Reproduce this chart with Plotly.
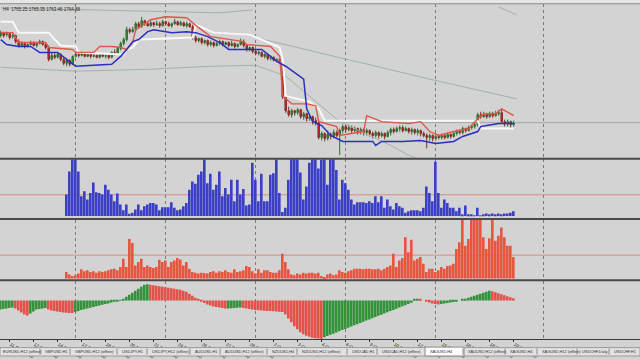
import plotly.graph_objects as go

# ---------------- price data (H4 bars) ----------------
OPEN = [1854,1857,1855,1856,1853,1854,1848,1844,1846,1843,
        1845,1847,1844,1846,1848,1845,1842,1830,1834,1832,
        1835,1830,1826,1829,1825,1833,1835,1834,1836,1833,
        1835,1833,1834,1832,1835,1833,1834,1832,1837,1836,
        1841,1846,1850,1860,1858,1860,1866,1863,1869,1866,
        1864,1867,1865,1866,1864,1868,1866,1864,1866,1868,
        1865,1867,1864,1866,1863,1852,1849,1851,1847,1849,
        1845,1847,1844,1846,1848,1845,1847,1844,1846,1843,
        1845,1848,1844,1840,1842,1838,1836,1837,1833,1835,
        1831,1832,1829,1830,1827,1792,1778,1774,1778,1776,
        1779,1772,1775,1770,1772,1768,1766,1751,1755,1750,
        1754,1752,1756,1753,1758,1762,1759,1761,1758,1760,
        1757,1759,1756,1758,1755,1753,1756,1753,1755,1752,
        1756,1759,1757,1760,1761,1758,1760,1757,1759,1756,
        1758,1755,1753,1751,1753,1750,1752,1751,1753,1751,
        1754,1752,1755,1757,1756,1760,1758,1761,1762,1764,
        1774,1772,1774,1772,1775,1773,1775,1776,1767,1765,
        1767,1764]
HIGH = [1859,1858,1858,1857,1856,1855,1850,1848,1847,1846,
        1849,1848,1847,1850,1849,1846,1844,1837,1836,1837,
        1836,1832,1831,1830,1834,1837,1837,1838,1837,1836,
        1837,1836,1835,1836,1836,1835,1835,1838,1840,1843,
        1848,1852,1863,1862,1863,1868,1868,1873,1870,1868,
        1869,1868,1869,1868,1870,1869,1868,1867,1871,1869,
        1869,1868,1868,1867,1865,1854,1852,1852,1850,1850,
        1849,1848,1848,1850,1849,1848,1848,1849,1847,1846,
        1851,1850,1845,1843,1843,1840,1839,1838,1836,1836,
        1834,1833,1831,1831,1829,1794,1782,1780,1779,1781,
        1780,1777,1776,1774,1773,1771,1768,1757,1756,1758,
        1756,1759,1758,1760,1764,1764,1764,1763,1762,1761,
        1761,1760,1760,1759,1757,1758,1757,1757,1756,1758,
        1761,1761,1762,1763,1763,1762,1761,1761,1760,1760,
        1759,1757,1755,1755,1754,1755,1754,1755,1754,1756,
        1755,1757,1759,1759,1762,1761,1763,1764,1766,1776,
        1777,1777,1776,1777,1777,1778,1779,1780,1769,1769,
        1768,1768]
LOW = [1852,1852,1853,1850,1851,1846,1842,1843,1841,1842,
       1844,1843,1842,1845,1844,1840,1828,1829,1830,1831,
       1828,1824,1823,1823,1824,1832,1832,1833,1832,1832,
       1831,1832,1831,1831,1832,1831,1830,1831,1834,1835,
       1839,1844,1848,1856,1857,1858,1861,1862,1864,1863,
       1863,1863,1864,1862,1863,1864,1863,1862,1865,1864,
       1864,1863,1862,1862,1850,1847,1847,1845,1845,1843,
       1843,1842,1843,1844,1843,1844,1842,1843,1841,1842,
       1844,1842,1838,1838,1836,1834,1834,1832,1831,1829,
       1829,1828,1827,1826,1790,1776,1772,1771,1773,1774,
       1770,1769,1767,1768,1764,1763,1749,1748,1747,1748,
       1749,1750,1751,1733,1755,1756,1757,1755,1756,1754,
       1754,1753,1753,1752,1750,1751,1750,1751,1749,1751,
       1753,1755,1756,1757,1756,1757,1755,1754,1754,1753,
       1752,1751,1740,1748,1747,1748,1749,1749,1749,1750,
       1750,1751,1753,1754,1754,1756,1757,1759,1760,1762,
       1770,1771,1770,1771,1771,1772,1773,1766,1762,1762,
       1760,1762]
CLOSE = [1857,1854,1856,1852,1854,1848,1844,1846,1843,1845,
         1847,1844,1846,1848,1845,1842,1830,1834,1832,1835,
         1830,1826,1829,1825,1833,1835,1834,1836,1833,1835,
         1833,1834,1832,1835,1833,1834,1832,1837,1836,1841,
         1846,1850,1860,1858,1860,1866,1863,1869,1866,1864,
         1867,1865,1866,1864,1868,1866,1864,1866,1868,1865,
         1867,1864,1866,1863,1852,1849,1851,1847,1849,1845,
         1847,1844,1846,1848,1845,1847,1844,1846,1843,1845,
         1848,1844,1840,1842,1838,1836,1837,1833,1835,1831,
         1832,1829,1830,1827,1792,1778,1774,1778,1776,1779,
         1772,1775,1770,1772,1768,1766,1751,1755,1750,1754,
         1752,1756,1753,1758,1762,1759,1761,1758,1760,1757,
         1759,1756,1758,1755,1753,1756,1753,1755,1752,1756,
         1759,1757,1760,1761,1758,1760,1757,1759,1756,1758,
         1755,1753,1751,1753,1750,1752,1751,1753,1751,1754,
         1752,1755,1757,1756,1760,1758,1761,1762,1764,1774,
         1772,1774,1772,1775,1773,1775,1776,1767,1765,1767,
         1764,1765]

# ---------------- overlay lines on price (bar index, price) ----------------
WHITE_X = [0,4,6,16,18,20,25,26,41,42,44,46,64,65,71,83,87,93,94,95,103,106,108,159,160,171]
WHITE_Y = [1868,1868,1857,1857,1850,1844,1843,1837,1835,1840,1842,1850,1852,1865,1857,1855,1850,1842,1830,1793,1787,1780,1768,1768,1760,1760]
RED_X = [0,4,6,15,16,24,25,31,33,37,40,42,44,45,50,55,62,64,66,70,81,82,90,93,94,97,102,105,106,112,113,121,122,127,136,140,143,146,151,156,159,161,165,167,170,171]
RED_Y = [1857,1857,1847,1847,1842,1840,1837,1837,1843,1843,1842,1840,1847,1860,1870,1873,1872,1867,1862,1853,1848,1845,1843,1833,1793,1785,1785,1783,1767,1762,1753,1757,1773,1767,1765,1767,1757,1753,1757,1760,1770,1775,1775,1780,1775,1773]
BLUE_X = [0,2,6,10,13,19,22,25,37,40,42,44,46,49,51,55,57,62,65,69,73,76,87,92,95,101,102,104,107,110,114,124,125,127,134,140,145,151,154,159,160,162,166,171]
BLUE_Y = [1850,1845,1843,1843,1837,1837,1830,1823,1825,1833,1840,1848,1850,1858,1860,1858,1857,1858,1857,1853,1847,1840,1840,1828,1823,1810,1780,1767,1763,1753,1747,1747,1743,1747,1747,1748,1745,1747,1752,1757,1762,1763,1765,1765]
MA_A_X = [0,40,73,84]
MA_A_Y = [1882,1879,1877,1880]
MA_B_X = [85,143,172]
MA_B_Y = [1852,1810,1790]
MA_C_X = [166,172]
MA_C_Y = [1883,1875]
MA_D_X = [0,25,50,70,85,95,113,130,136,145]
MA_D_Y = [1822,1818,1820,1823,1824,1813,1767,1743,1733,1722]
H_LEVEL = 1766

# ---------------- sub-window indicators ----------------
HIST_START = 22
BLUE_HIST = [21.7,45,70,70,45,20,25,16.7,23.3,34, 24,23.3,21.7,31.7,26.7,21.7,15,22.7,11.7,6,
             11.7,2.3,3.3,6.7,11.7,6,10,11.7,13.3,13.3, 11.7,6,9,9,9,14,8.3,6,6.7,10,
             13.3,26.7,35,32.7,41.7,45,70,33.3,42.7,26.7, 31.7,45,20,28.3,21.7,36.7,15,36.7,21.7,27.3,
             10.7,11.7,54,36.7,15,42.7,15,15,41.7,43.3, 70,23.3,4,8.3,36.7,70,70,70,44,16.7,
             30,54,70,70,48,
             57,70,31.7,70,70,46.7,16.7,36.7,33.3,26.7, 16.7,11.7,14,14,14,13.3,15,13.3,20,14,
             20,8.3,16.7,10,6.7,13.3,10,8.3,3.3,5, 6,6,6,5,8.3,30,23.3,15,55,23.3,
             8.3,16.7,13.3,8.3,8.3,5,8.3,1.7,10.7,1.7, 1.7,0.5,8.3,0.5,1.7,2.7,1.7,2.7,1.7,2.7,
             1.7,2.7,2.7,3.3,5]
RED_HIST = [6.7,4,2.7,3.3,5,9.3,7.3,8.3,6.7,7.3, 6,7.3,6.7,7.3,8.3,9.3,10,8.3,11.7,20,
            11.7,40,36,13.3,16.7,20,11.7,13.3,11.7,10.7, 11.7,19,16.7,18.3,11.7,16.7,18.3,20.7,19.3,13.3,
            16.7,10,6.7,6,5,6,5.7,5,6.7,7.3, 6,7.3,6.7,8.3,6.7,6,9.3,6.7,7.3,8.3,
            12.7,11.7,7.3,5,9.3,6,8.3,8.3,6.7,6, 6,8.3,25,16.7,9.3,4,3.3,5,4,6,
            5,6,6,5,6,
            2.7,1.7,4,5,3.3,4,8.3,6.7,6,7.3, 8.3,10,10,10,9.3,10,10,9.3,9.3,10,
            8.3,10,11.7,13.3,25,11.7,18.3,20.7,41.7,26.7, 39.3,18.3,20,21.7,15,6.7,10,10,6.7,8.3,
            11.7,10,12.7,13.3,15,30,36.7,70,33.3,40, 70,70,70,70,41.7,30,40.7,70,38.3,43.3,
            51.7,41.7,33.3,33.3,21.7]
BLUE_LEVEL = 21.5
RED_LEVEL = 23.7
OSC = [-9,-8.5,-8,-7.5,-7, -8,-10,-12,-14,-15, -13,-11,-9, -8.5,-8,-7.5,
       -9,-10,-10.5,-11,-11.5,-12,-12.2,-12.4,-12.5,
       -11.5,-10.5,-9.5,-8.8,-8,-7.2,-6.5,-5.8,-5,-4.2,-3.5,-2.8,
       -2,-1.2,-0.5,0.5, 2,4,6,8,10,12,14,16, 16.5,
       16,15.5,15,14.5,14,13.5,13,12.5,12,11.5,11,10,9, 7,5,3,1,
       -1,-2.5,-4,-5,-6,-6.5,-7,-7.5,-8,-8,-7.8,-7.5,-7.2,-7,-7.5,-8,-8.5,-9,-9.5,
       -9.8,-10,-10.2,-10.4,-10.6,-10.8,-11,-11.2,-11.5,
       -14,-18,-22,-26,-29,-32,-34,-35.5,-36.5,-37.5,-38, -38.3,-38.6,
       -37,-35.8,-34.6,-33.4,-32.2,-31,-29.8,-28.6,-27.4,-26.2,-25,-23.8,-22.6,-21.4,-20.2,
       -19,-17.8,-16.6,-15.4,-14.2,-13,-11.8,-10.6,-9.4,-8.2,-7,-5.8,-4.6,-3.4,-2.2,
       1,1.5, 1,0,-1,-2,-3,-3.5,-4, -3.5,-3,-2.5,-2,-1.5,-1,0,
       1,2,3,4,5,6,7,8,9,10, 9.5,8.5,7.5,6.5,5.5,4.5,3.5,2.5]

# ---------------- axis text ----------------
TICK_BARS = [3,11,19,27,35,43,51,59,67,75,83,91,99,107,115,123,131,139,147,155,163,171]
TICK_LABELS = ["11 Sep 09:00","12 Sep 17:00","14 Sep 01:00","17 Sep 09:00","18 Sep 17:00",
               "20 Sep 01:00","21 Sep 09:00","24 Sep 17:00","26 Sep 01:00","27 Sep 09:00",
               "28 Sep 17:00","2 Oct 01:00","3 Oct 09:00","4 Oct 17:00","8 Oct 01:00",
               "9 Oct 09:00","10 Oct 17:00","12 Oct 01:00","15 Oct 09:00","16 Oct 17:00",
               "18 Oct 01:00","19 Oct 09:00"]
GRID_BARS = [25,55,85,115,145,181]
HEADER = "H4  1765.25 1765.35 1763.46 1764.88"
TABS = ["EURUSD,H12 (offline)","GBPUSD,H1","GBPUSD,H12 (offline)","USDJPY,H1",
        "USDJPY,H12 (offline)","AUDUSD,H1","AUDUSD,H12 (offline)","NZDUSD,H4",
        "NZDUSD,H12 (offline)","USDCAD,H1","USDCAD,H12 (offline)","XAUUSD,H4",
        "XAUUSD,H12 (offline)","XAGUSD,H4","XAGUSD,H12 (offline)","USDCHF,Daily","USDCHF,H1"]
TAB_PX = [1,43,73,120,150,193,223,270,300,350,380,428,466,508,540,580,612]
ACTIVE_TAB = "XAUUSD,H4"

W, H = 640, 360
BG = "#d3d3d3"
GREEN = "#33923a"
RED = "#d8433a"
FONT = "Liberation Sans"

def py(p):
    return (H - p) / H

fig = go.Figure()
n = len(OPEN)
idx = list(range(n))

ma_style = dict(color="#9fb3a6", width=1)
for mx, my in ((MA_A_X, MA_A_Y), (MA_B_X, MA_B_Y), (MA_C_X, MA_C_Y), (MA_D_X, MA_D_Y)):
    fig.add_trace(go.Scatter(x=mx, y=my, mode="lines", line=ma_style, yaxis="y", hoverinfo="skip"))
fig.add_trace(go.Scatter(x=WHITE_X, y=WHITE_Y, mode="lines", line=dict(color="#f8f8f8", width=2), yaxis="y"))
fig.add_trace(go.Candlestick(x=idx, open=OPEN, high=HIGH, low=LOW, close=CLOSE, yaxis="y",
                             increasing=dict(fillcolor=GREEN, line=dict(color="#2f6f33", width=1)),
                             decreasing=dict(fillcolor="#cc2e26", line=dict(color="#8a2a24", width=1)),
                             whiskerwidth=0))
fig.add_trace(go.Scatter(x=RED_X, y=RED_Y, mode="lines", line=dict(color="#e0564c", width=1.4), yaxis="y"))
fig.add_trace(go.Scatter(x=BLUE_X, y=BLUE_Y, mode="lines", line=dict(color="#2a2fc0", width=1.5), yaxis="y"))

hx = list(range(HIST_START, HIST_START + len(BLUE_HIST)))
fig.add_trace(go.Bar(x=hx, y=BLUE_HIST, yaxis="y2", width=0.62, marker=dict(color="#3b3fc6", line=dict(width=0))))
fig.add_trace(go.Bar(x=hx, y=RED_HIST, yaxis="y3", width=0.62, marker=dict(color="#e8553f", line=dict(width=0))))
osc_colors = [GREEN if (k == 0 or v >= OSC[k - 1]) else "#e25248" for k, v in enumerate(OSC)]
fig.add_trace(go.Bar(x=idx, y=OSC, yaxis="y4", width=0.62, marker=dict(color=osc_colors, line=dict(width=0))))

xr = [-0.233, 213.1]
common_y = dict(showticklabels=False, showgrid=False, zeroline=False, fixedrange=True, ticks="")
fig.update_layout(
    width=W, height=H, margin=dict(l=0, r=0, t=0, b=0),
    paper_bgcolor=BG, plot_bgcolor=BG, showlegend=False, barmode="overlay",
    xaxis=dict(range=xr, anchor="y4", domain=[0, 1], showgrid=False, zeroline=False,
               rangeslider=dict(visible=False),
               tickmode="array", tickvals=TICK_BARS, ticktext=TICK_LABELS,
               ticks="outside", ticklen=2, tickcolor="#303030", tickwidth=1,
               ticklabelposition="outside right",
               tickfont=dict(family=FONT, size=4.5, color="#202020"),
               showline=True, linecolor="#3a3a3a", linewidth=1,
               minor=dict(tickmode="array", tickvals=GRID_BARS, showgrid=True,
                          gridcolor="#7a7a7a", griddash="dot", gridwidth=1, ticks="")),
    yaxis=dict(domain=[py(160), py(4)], range=[1730, 1886], **common_y),
    yaxis2=dict(domain=[py(222), py(161)], range=[-3.5, 57.5], **common_y),
    yaxis3=dict(domain=[py(284), py(222)], range=[-2.3, 59.7], **common_y),
    yaxis4=dict(domain=[py(343), py(284)], range=[-39, 20], **common_y),
)

shapes = []
shapes.append(dict(type="line", xref="paper", x0=0, x1=1, yref="y", y0=H_LEVEL, y1=H_LEVEL, line=dict(color="#a6a6a6", width=1), layer="below"))
shapes.append(dict(type="line", xref="paper", x0=0, x1=1, yref="y2", y0=BLUE_LEVEL, y1=BLUE_LEVEL, line=dict(color="#d88a84", width=1), layer="below"))
shapes.append(dict(type="line", xref="paper", x0=0, x1=1, yref="y3", y0=RED_LEVEL, y1=RED_LEVEL, line=dict(color="#d88a84", width=1), layer="below"))
for sep in (160.5, 221.5, 283.5):
    shapes.append(dict(type="line", xref="paper", x0=0, x1=1, yref="paper", y0=py(sep), y1=py(sep), line=dict(color="#4a4a4a", width=2)))
shapes.append(dict(type="rect", xref="paper", x0=0, x1=1, yref="paper", y0=py(3.5), y1=1, fillcolor="#e6e6e6", line=dict(width=0)))
shapes.append(dict(type="line", xref="paper", x0=0, x1=1, yref="paper", y0=py(3.8), y1=py(3.8), line=dict(color="#8c8c8c", width=1)))
shapes.append(dict(type="rect", xref="paper", x0=0, x1=1, yref="paper", y0=0, y1=py(351.5), fillcolor="#e2e2e2", line=dict(color="#9a9a9a", width=1)))
annotations = []
for name, px in zip(TABS, TAB_PX):
    if name == ACTIVE_TAB:
        shapes.append(dict(type="rect", xref="paper", x0=(px - 3) / W, x1=(px + 36) / W, yref="paper", y0=0, y1=py(351), fillcolor="#fbfbfb", line=dict(color="#8a8a8a", width=1)))
    elif px > 5:
        shapes.append(dict(type="line", xref="paper", x0=(px - 3) / W, x1=(px - 3) / W, yref="paper", y0=py(358.5), y1=py(352.5), line=dict(color="#8a8a8a", width=1)))
    annotations.append(dict(text=name, x=px / W, y=py(355.8), xref="paper", yref="paper", xanchor="left", yanchor="middle",
                            showarrow=False, font=dict(family=FONT, size=3.9, color="#303030")))
annotations.append(dict(text=HEADER, x=1 / W, y=py(9.5), xref="paper", yref="paper", xanchor="left", yanchor="middle",
                        showarrow=False, font=dict(family=FONT, size=4.5, color="#202020")))
fig.update_layout(shapes=shapes, annotations=annotations)

fig.write_html("out.html")
